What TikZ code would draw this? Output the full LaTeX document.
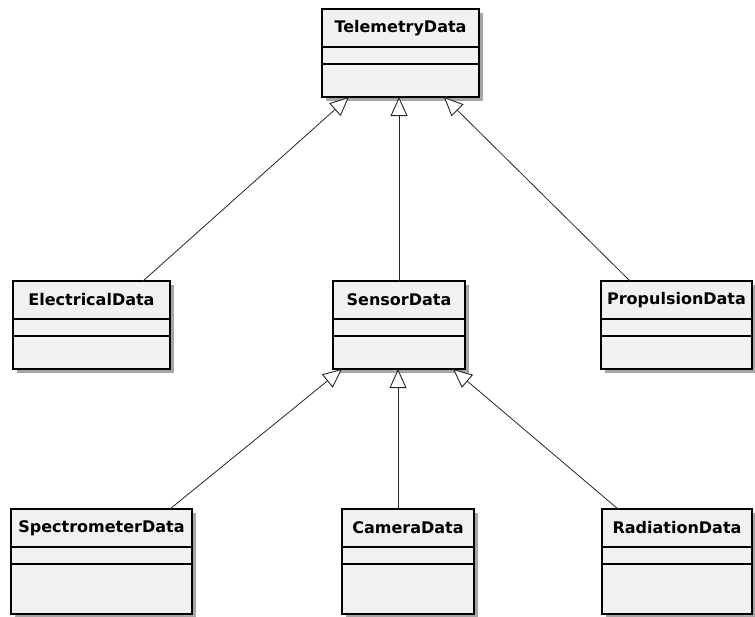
\documentclass[tikz,border=0pt]{standalone}
\usepackage{fontspec}
\setmainfont{DejaVu Sans}
\usetikzlibrary{calc,arrows.meta,shadows}

\definecolor{boxfill}{HTML}{F1F1F1}
\definecolor{boxshadow}{HTML}{A6A6A6}

\tikzset{
  classbox/.style={draw=black, line width=1.3pt, fill=boxfill, anchor=north west,
    inner sep=0pt, outer sep=0pt,
    drop shadow={shadow xshift=4pt, shadow yshift=-4pt, fill=boxshadow, opacity=1}},
  classtitle/.style={font=\bfseries\fontsize{16}{19}\selectfont, inner sep=0pt},
  classline/.style={black, line width=1.1pt},
  inherit/.style={draw=black!85, line width=0.8pt,
    -{Triangle[length=19pt, width=17pt, fill=white, line width=0.9pt]}},
}

% a class box: name, north-west corner, width, height, title
\newcommand{\umlclass}[5]{%
  \node[classbox, minimum width=#3, minimum height=#4] (#1) at #2 {};
  \node[classtitle] (#1-title) at ($(#1.north)+(0,19)$) {#5};
  \draw[classline] ($(#1.north west)+(0,38)$) -- ($(#1.north east)+(0,38)$);
  \draw[classline] ($(#1.north west)+(0,55)$) -- ($(#1.north east)+(0,55)$);
}

\begin{document}
\begin{tikzpicture}[x=1pt, y=-1pt]
  \useasboundingbox (0,0) rectangle (755,616);

  \umlclass{tel}{(322,9)}{157}{88}{TelemetryData}
  \umlclass{ele}{(13,281)}{157}{88}{ElectricalData}
  \umlclass{sen}{(333,281)}{132}{88}{SensorData}
  \umlclass{pro}{(601,281)}{151}{88}{PropulsionData}
  \umlclass{spe}{(11,509)}{181}{105}{SpectrometerData}
  \umlclass{cam}{(342,509)}{132}{105}{CameraData}
  \umlclass{rad}{(602,509)}{150}{105}{RadiationData}

  % generalisations towards TelemetryData
  \draw[inherit] ($(ele.north west)+(130,0)$) -- ($(tel.south west)+(27,0)$);
  \draw[inherit] ($(sen.north west)+(66,0)$) -- ($(tel.south west)+(77,0)$);
  \draw[inherit] ($(pro.north west)+(29,0)$) -- ($(tel.south west)+(122,0)$);

  % generalisations towards SensorData
  \draw[inherit] ($(spe.north west)+(159,0)$) -- ($(sen.south west)+(9,0)$);
  \draw[inherit] ($(cam.north west)+(56,0)$) -- ($(sen.south west)+(65,0)$);
  \draw[inherit] ($(rad.north west)+(16,0)$) -- ($(sen.south west)+(120,0)$);
\end{tikzpicture}
\end{document}
